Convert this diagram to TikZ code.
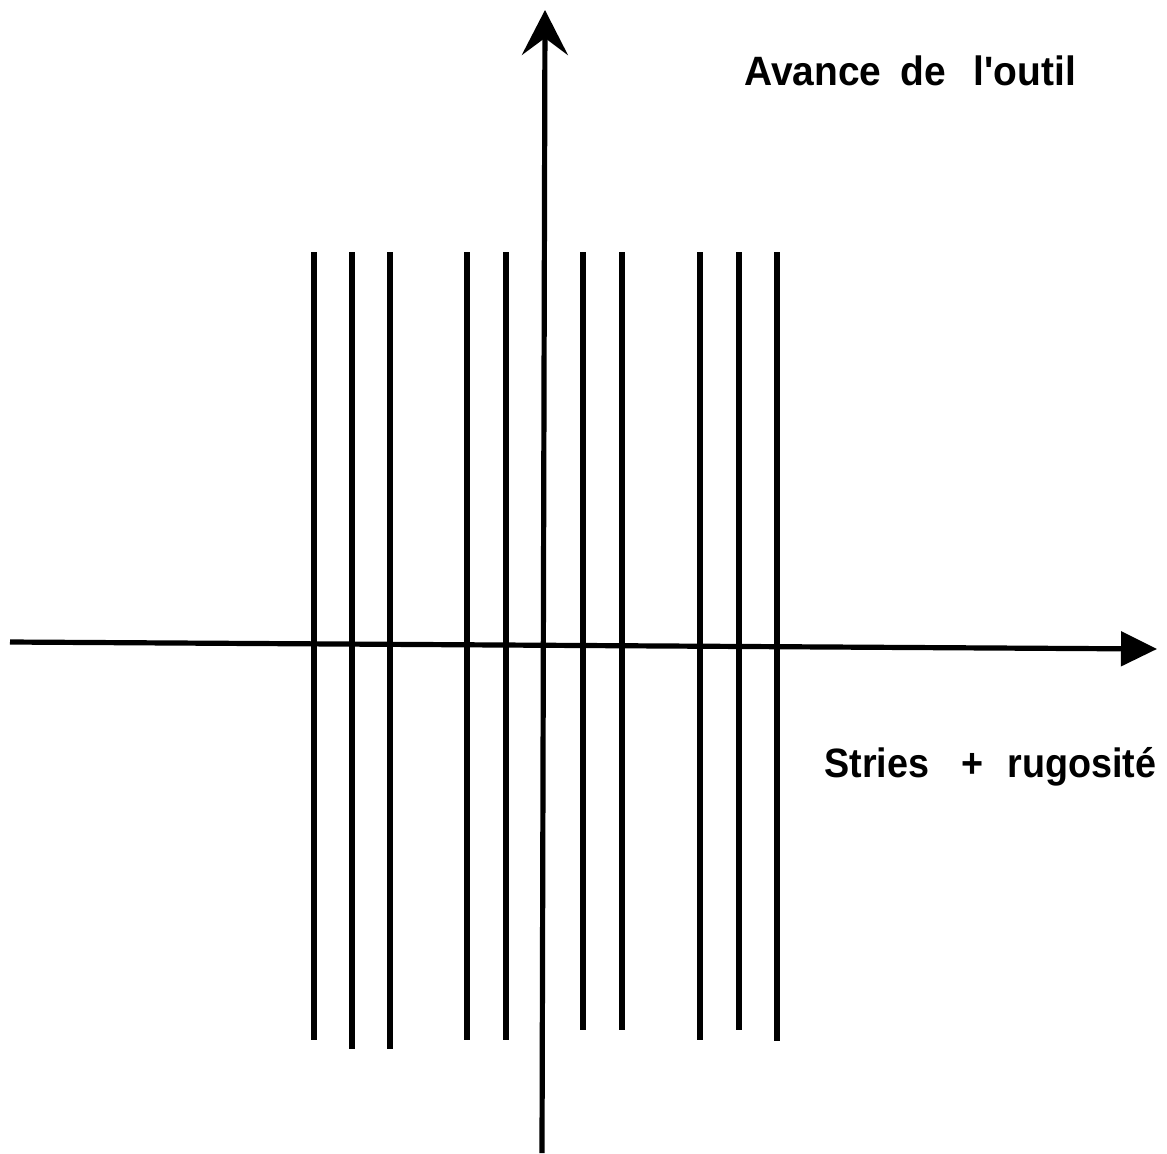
\documentclass[tikz,border=0pt]{standalone}
\usepackage{fontspec}
\setmainfont{Liberation Sans}
\usetikzlibrary{arrows.meta}
\begin{document}
\begin{tikzpicture}[x=0.5pt,y=-0.5pt,
  stria/.style={line width=2.8pt},
  axis/.style={line width=2.6pt},
  lbl/.style={font=\fontsize{20.5}{24}\selectfont\bfseries, inner sep=0pt, anchor=base west}]
\useasboundingbox (0,0) rectangle (1167,1153);
% striae: x, bottom y
\foreach \x/\b in {314/1040,352/1049,390/1049,467/1040,506/1040,583/1030,622/1030,700/1040,739/1030,777/1041}{
  \draw[stria] (\x,252) -- (\x,\b);
}
\coordinate (vb) at (542,1153);
\coordinate (vt) at (545,10);
\coordinate (hl) at (10,642);
\coordinate (hr) at (1157,649);
\draw[axis,-{Stealth[length=22.5pt,width=23pt,inset=8.5pt]}] (vb) -- (vt);
\draw[axis,-{Triangle[length=18pt,width=17pt]}] (hl) -- (hr);
\node[lbl] (avance) at (744,85) {\scalebox{0.95}[1]{Avance\hspace{10pt}de\hspace{14.5pt}l\textquotesingle outil}};
\node[lbl] (stries) at (824,777) {\scalebox{0.92}[1]{Stries\hspace{17.3pt}+\hspace{13.2pt}rugosité}};
\end{tikzpicture}
\end{document}
